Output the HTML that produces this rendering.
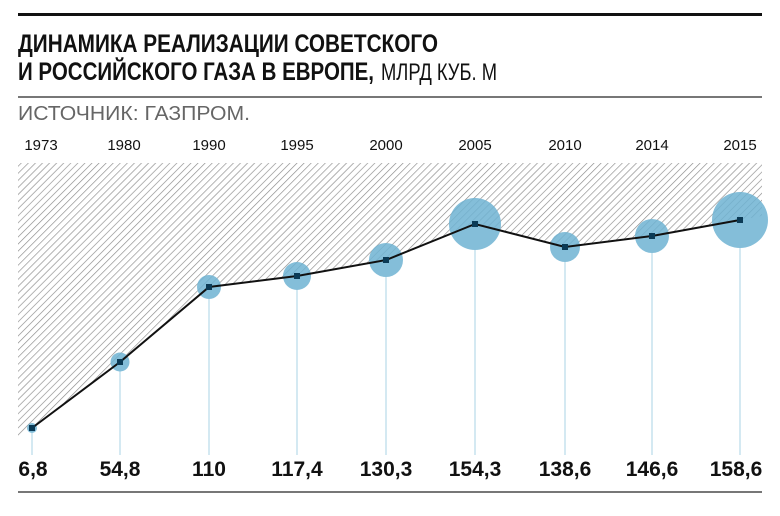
<!DOCTYPE html>
<html><head><meta charset="utf-8"><style>
body{margin:0;background:#fff;width:780px;height:511px;overflow:hidden;font-family:"Liberation Sans",sans-serif}
</style></head><body>
<svg width="780" height="511" xmlns="http://www.w3.org/2000/svg">
<defs>
<pattern id="h" patternUnits="userSpaceOnUse" width="5" height="5" patternTransform="rotate(45)">
<rect width="5" height="5" fill="#fff"/><line x1="0" y1="0" x2="0" y2="5" stroke="#8a8a8a" stroke-width="1.3"/>
</pattern>
</defs>
<rect x="18" y="13" width="744" height="3" fill="#111"/>
<text x="18" y="52" font-size="25" font-weight="bold" fill="#111" textLength="420" lengthAdjust="spacingAndGlyphs">ДИНАМИКА РЕАЛИЗАЦИИ СОВЕТСКОГО</text>
<text x="18" y="80" font-size="25" fill="#111"><tspan font-weight="bold" textLength="356" lengthAdjust="spacingAndGlyphs">И РОССИЙСКОГО ГАЗА В ЕВРОПЕ,</tspan></text>
<text x="381" y="80" font-size="24" fill="#111" textLength="116" lengthAdjust="spacingAndGlyphs">МЛРД КУБ. М</text>
<rect x="18" y="96" width="744" height="2" fill="#777"/>
<text x="18" y="120" font-size="20" fill="#666" textLength="232" lengthAdjust="spacingAndGlyphs">ИСТОЧНИК: ГАЗПРОМ.</text>
<g font-size="15" fill="#111" text-anchor="middle">
<text x="41" y="150">1973</text><text x="124" y="150">1980</text><text x="209" y="150">1990</text><text x="297" y="150">1995</text><text x="386" y="150">2000</text><text x="475" y="150">2005</text><text x="565" y="150">2010</text><text x="652" y="150">2014</text><text x="740" y="150">2015</text>
</g>
<polygon points="18,163 762,163 762,216 740,220 652,236 565,247 475,224 386,260 297,276 209,287 120,362 32,428 18,437" fill="url(#h)"/>
<g stroke="#a9d3e6" stroke-width="1">
<line x1="32" y1="433" x2="32" y2="455"/><line x1="120" y1="371" x2="120" y2="455"/><line x1="209" y1="299" x2="209" y2="455"/><line x1="297" y1="290" x2="297" y2="455"/><line x1="386" y1="277" x2="386" y2="455"/><line x1="475" y1="250" x2="475" y2="455"/><line x1="565" y1="262" x2="565" y2="455"/><line x1="652" y1="253" x2="652" y2="455"/><line x1="740" y1="248" x2="740" y2="455"/>
</g>
<g fill="#6fb3d2" fill-opacity="0.85">
<circle cx="32" cy="428" r="5"/><circle cx="120" cy="362" r="9.5"/><circle cx="209" cy="287" r="12"/><circle cx="297" cy="276" r="14"/><circle cx="386" cy="260" r="17"/><circle cx="475" cy="224" r="26"/><circle cx="565" cy="247" r="15"/><circle cx="652" cy="236" r="17"/><circle cx="740" cy="220" r="28"/>
</g>
<polyline points="32,428 120,362 209,287 297,276 386,260 475,224 565,247 652,236 740,220" fill="none" stroke="#111" stroke-width="2"/>
<g fill="#0b3a55">
<rect x="29" y="425" width="6" height="6"/><rect x="117" y="359" width="6" height="6"/><rect x="206" y="284" width="6" height="6"/><rect x="294" y="273" width="6" height="6"/><rect x="383" y="257" width="6" height="6"/><rect x="472" y="221" width="6" height="6"/><rect x="562" y="244" width="6" height="6"/><rect x="649" y="233" width="6" height="6"/><rect x="737" y="217" width="6" height="6"/>
</g>
<g font-size="21" font-weight="bold" fill="#111" text-anchor="middle">
<text x="33" y="476">6,8</text><text x="120" y="476">54,8</text><text x="209" y="476">110</text><text x="297" y="476">117,4</text><text x="386" y="476">130,3</text><text x="475" y="476">154,3</text><text x="565" y="476">138,6</text><text x="652" y="476">146,6</text><text x="736" y="476">158,6</text>
</g>
<rect x="18" y="491" width="744" height="2" fill="#777"/>
</svg>
</body></html>
